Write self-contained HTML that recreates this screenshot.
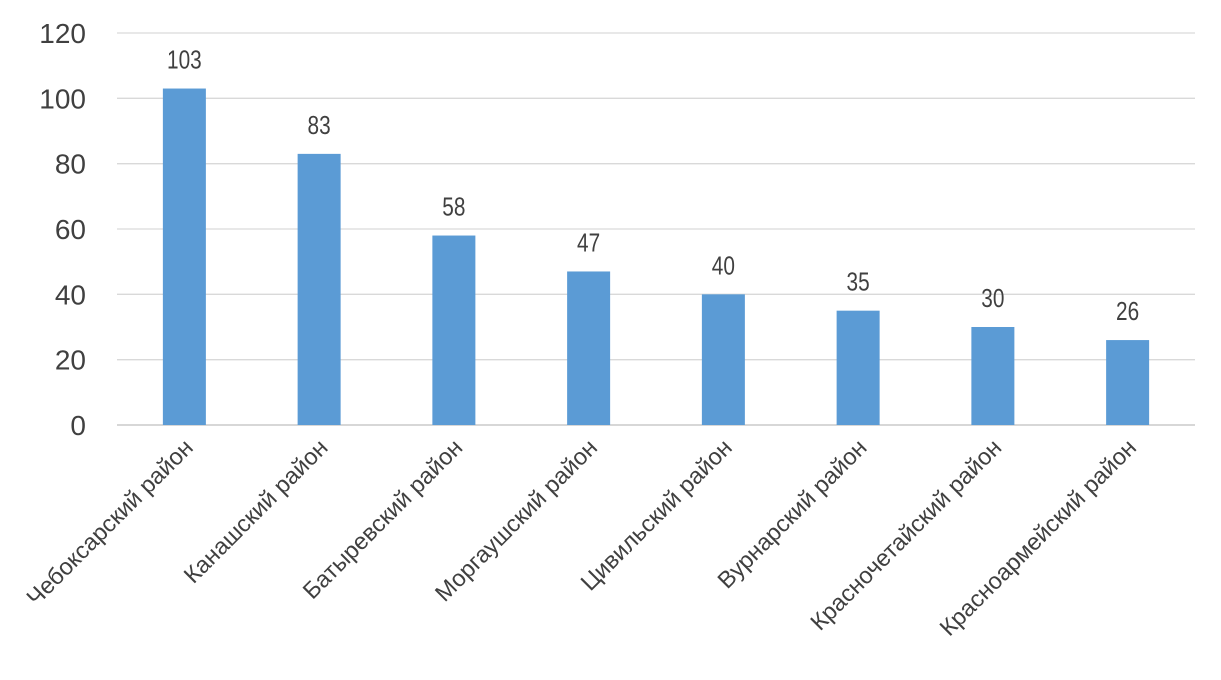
<!DOCTYPE html>
<html><head><meta charset="utf-8"><style>
html,body{margin:0;padding:0;background:#fff;}
svg{display:block;font-family:"Liberation Sans",sans-serif;}
</style></head><body>
<svg id="chart" width="1221" height="680" viewBox="0 0 1221 680" xmlns="http://www.w3.org/2000/svg"></svg>
<script>
const categories=["Чебоксарский район","Канашский район","Батыревский район","Моргаушский район","Цивильский район","Вурнарский район","Красночетайский район","Красноармейский район"];
const values=[103,83,58,47,40,35,30,26];
const yTicks=[0,20,40,60,80,100,120];
const NS="http://www.w3.org/2000/svg";
const svg=document.getElementById('chart');
const x0=117,x1=1195,yBase=425,yTop=33,yMax=120;
const band=(x1-x0)/categories.length;
const yS=v=>yBase-(v/yMax)*(yBase-yTop);
const xC=i=>x0+band*(i+0.5);
function mk(t,a){const e=document.createElementNS(NS,t);for(const k in a)e.setAttribute(k,a[k]);svg.appendChild(e);return e;}
yTicks.forEach(t=>{
  const l=mk('line',{x1:x0,x2:x1,y1:yS(t),y2:yS(t),stroke:t===0?'#bfbfbf':'#d9d9d9','stroke-width':1.3});
  
  
  const tx=mk('text',{x:86,y:yS(t)+10,'text-anchor':'end','font-size':28,fill:'#404040'});
  tx.textContent=t;
  
  
});
values.forEach((v,i)=>{
  const cx=xC(i),w=43;
  const r=mk('rect',{x:cx-w/2,y:yS(v),width:w,height:yBase-yS(v),fill:'#5b9bd5'});
  
  
  const t=mk('text',{x:cx,y:yS(v)-20,'text-anchor':'middle','font-size':26,fill:'#404040',transform:`translate(${cx},0) scale(0.8,1) translate(${-cx},0)`});
  t.textContent=v;
  
  
  const c=mk('text',{x:0,y:0,'text-anchor':'end','font-size':23.5,fill:'#404040',transform:`translate(${cx+10},${yBase+24}) rotate(-45)`});
  c.textContent=categories[i];
  
  
});
</script>
</body></html>
